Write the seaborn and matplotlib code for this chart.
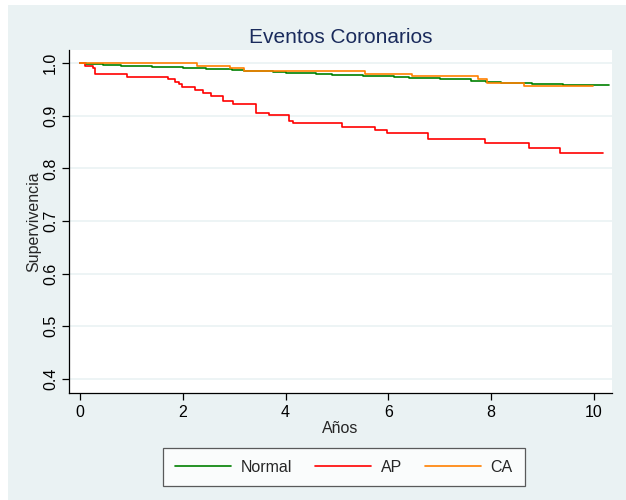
import pandas as pd
import matplotlib
matplotlib.use("Agg")
import matplotlib.pyplot as plt
import seaborn as sns
from matplotlib.patches import Rectangle

# Kaplan-Meier step data
normal_t = [0, 0.12, 0.3, 0.45, 0.62, 0.8, 1.0, 1.2, 1.4, 1.6, 1.8, 2.0, 2.2, 2.45, 2.7,
            2.95, 3.2, 3.5, 3.75, 4.0, 4.3, 4.6, 4.9, 5.2, 5.5, 5.8, 6.1, 6.4, 6.7, 7.0,
            7.3, 7.6, 7.9, 8.2, 8.5, 8.8, 9.1, 9.4, 9.7, 10.0, 10.3]
normal_s = [1.0, 0.999, 0.998, 0.997, 0.996, 0.995, 0.9945, 0.994, 0.993, 0.9925, 0.992,
            0.991, 0.990, 0.989, 0.988, 0.987, 0.986, 0.985, 0.984, 0.982, 0.981, 0.980,
            0.978, 0.977, 0.976, 0.975, 0.974, 0.972, 0.971, 0.970, 0.969, 0.967, 0.965,
            0.963, 0.962, 0.960, 0.9595, 0.959, 0.959, 0.959, 0.959]

ap_t = [0, 0.10, 0.25, 0.29, 0.92, 1.72, 1.85, 1.93, 1.98, 2.24, 2.40, 2.55, 2.78, 2.98,
        3.42, 3.68, 4.07, 4.15, 5.09, 5.74, 5.97, 6.78, 7.87, 8.74, 9.34, 10.18]
ap_s = [1.0, 0.995, 0.991, 0.979, 0.974, 0.970, 0.965, 0.960, 0.954, 0.949, 0.943, 0.938,
        0.928, 0.922, 0.906, 0.902, 0.890, 0.886, 0.879, 0.872, 0.867, 0.855, 0.848,
        0.839, 0.830, 0.830]

ca_t = [0, 2.27, 2.92, 3.19, 5.54, 6.45, 7.74, 7.92, 8.63, 9.99]
ca_s = [1.0, 0.995, 0.990, 0.985, 0.979, 0.975, 0.969, 0.963, 0.956, 0.956]

groups = ["Normal", "AP", "CA"]
colors = ["#008000", "#FF0000", "#FF8000"]
y_ticks = [0.4, 0.5, 0.6, 0.7, 0.8, 0.9, 1.0]
x_ticks = [0, 2, 4, 6, 8, 10]

df = pd.concat([
    pd.DataFrame({"t": normal_t, "s": normal_s, "grupo": "Normal"}),
    pd.DataFrame({"t": ap_t, "s": ap_s, "grupo": "AP"}),
    pd.DataFrame({"t": ca_t, "s": ca_s, "grupo": "CA"}),
])

sns.set_style("white")
plt.rcParams["font.family"] = ["Liberation Sans", "DejaVu Sans"]

bg = "#EAF2F3"
fig = plt.figure(figsize=(6.26, 5.0), dpi=100)
fig.patch.set_facecolor("white")
fig.patches.append(Rectangle((8 / 626, 0), 1, 495 / 500, transform=fig.transFigure,
                             facecolor=bg, edgecolor="none", zorder=-10))

ax = fig.add_axes([69 / 626, 1 - 393 / 500, 543 / 626, 343 / 500])
ax.set_facecolor("white")

sns.lineplot(data=df, x="t", y="s", hue="grupo", hue_order=groups,
             palette=dict(zip(groups, colors)), estimator=None, sort=False,
             drawstyle="steps-post", linewidth=1.2, ax=ax)

ax.set_xlim(-0.214, 10.35)
ax.set_ylim(0.373, 1.025)
ax.set_yticks(y_ticks)
ax.set_yticklabels([f"{v:.1f}" for v in y_ticks], rotation=90, va="center")
ax.set_xticks(x_ticks)
ax.grid(axis="y", color=bg, linewidth=1.2)
ax.grid(axis="x", visible=False)

for side in ["top", "right"]:
    ax.spines[side].set_visible(False)
for side in ["left", "bottom"]:
    ax.spines[side].set_color("black")
    ax.spines[side].set_linewidth(0.9)

ax.tick_params(axis="both", direction="out", length=5, width=0.9, colors="black",
               labelsize=11.5, left=True, bottom=True)
ax.tick_params(axis="y", pad=3)
ax.set_xlabel("Años", fontsize=11.5, labelpad=1)
ax.set_ylabel("Supervivencia", fontsize=11.5, labelpad=1)
ax.set_title("Eventos Coronarios", fontsize=15, color="#1A2B5C", pad=5)

handles, labels = ax.get_legend_handles_labels()
ax.get_legend().remove()
leg = fig.legend(handles, labels, loc="center", bbox_to_anchor=(344 / 626, 1 - 467 / 500),
                 ncol=3, fontsize=11.5, frameon=True, fancybox=False, edgecolor="#333333",
                 handlelength=3.5, handletextpad=0.6, columnspacing=1.45,
                 borderpad=0.75)
leg.get_frame().set_linewidth(0.9)

plt.savefig("out.png", dpi=100, facecolor=fig.get_facecolor())
